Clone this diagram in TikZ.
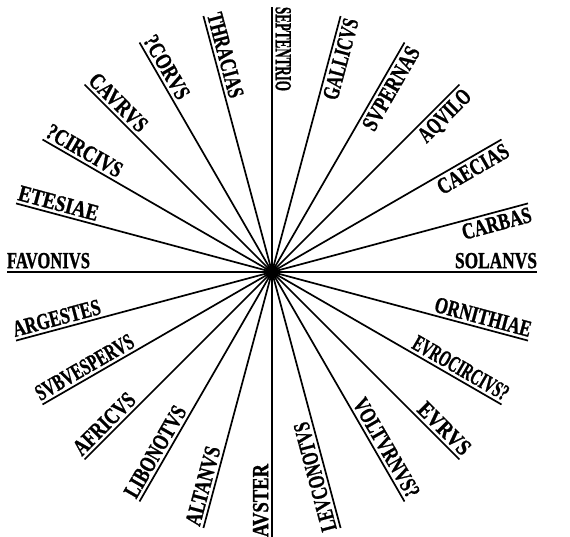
\documentclass[tikz,border=0pt]{standalone}
\usepackage{fontspec}
\setmainfont{Liberation Serif}[BoldFeatures={FakeBold=1.2}]
\usepackage{graphicx}
\usetikzlibrary{calc}
\begin{document}
\begin{tikzpicture}[x=1pt,y=1pt,
  ray/.style={line width=1.7pt, black},
  windlabel/.style={inner sep=0pt, outer sep=0pt, font=\fontsize{23}{23}\selectfont\bfseries},
  hubdot/.style={circle, fill=black, inner sep=0pt, minimum size=14pt}]
\useasboundingbox (0,0) rectangle (570,-537);
\coordinate (C) at (272,-272);
\def\rad{265}
\def\gap{3.5}
% outward reading, text above the ray
\foreach \ang/\nm/\lbl/\wid in {0/solanus/SOLANVS/82, 300/volturnus/VOLTVRNVS?/111, 315/eurus/EVRVS/65, 330/eurocircius/EVROCIRCIVS?/107, 345/ornithiae/ORNITHIAE/99}{
  \coordinate (e-\nm) at ($(C)+(\ang:\rad)$);
  \draw[ray] (C) -- (e-\nm);
  \node[windlabel, rotate=\ang, anchor=south east] (\nm) at ($(e-\nm)+(\ang+90:\gap)$) {\resizebox{\wid pt}{\height}{\lbl}};
}
% outward reading, text below the ray
\foreach \ang/\nm/\lbl/\wid in {15/carbas/CARBAS/71, 30/caecias/CAECIAS/79, 45/aquilo/AQVILO/65, 60/supernas/SVPERNAS/93, 75/gallicus/GALLICVS/83}{
  \coordinate (e-\nm) at ($(C)+(\ang:\rad)$);
  \draw[ray] (C) -- (e-\nm);
  \node[windlabel, rotate=\ang, anchor=north east] (\nm) at ($(e-\nm)+(\ang-90:\gap)$) {\resizebox{\wid pt}{\height}{\lbl}};
}
% inward reading, text above the ray
\foreach \ang/\nm/\lbl/\wid in {90/septentrio/SEPTENTRIO/84, 105/thracias/THRACIAS/87, 120/corus/?CORVS/70, 135/caurus/CAVRVS/73, 150/circius/?CIRCIVS/84, 165/etesiae/ETESIAE/82, 180/favonius/FAVONIVS/83, 195/argestes/ARGESTES/90, 210/subvesperus/SVBVESPERVS/110, 225/africus/AFRICVS/78, 240/libonotus/LIBONOTVS/102, 255/altanus/ALTANVS/81, 270/auster/AVSTER/73, 285/leuconotus/LEVCONOTVS/112}{
  \coordinate (e-\nm) at ($(C)+(\ang:\rad)$);
  \draw[ray] (C) -- (e-\nm);
  \node[windlabel, rotate=\ang-180, anchor=south west] (\nm) at ($(e-\nm)+(\ang-90:\gap)$) {\resizebox{\wid pt}{\height}{\lbl}};
}
\node[hubdot] (hub) at (C) {};
\end{tikzpicture}
\end{document}
